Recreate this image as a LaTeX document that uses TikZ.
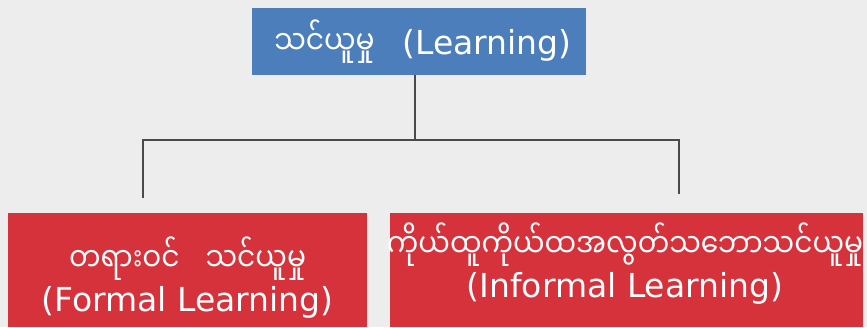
\documentclass[tikz,border=0pt]{standalone}
\usepackage{fontspec}
\setmainfont{DejaVu Sans}
\newfontfamily\mya[Script=Myanmar, FakeStretch=0.85]{Noto Sans Myanmar UI}
\newcommand\mytxt[1]{{\mya\fontsize{33}{40}\selectfont #1}}
\usetikzlibrary{calc}
\definecolor{paper}{HTML}{EDEDED}
\definecolor{boxblue}{HTML}{4D7EBC}
\definecolor{boxred}{HTML}{D5323C}
\definecolor{linegrey}{HTML}{4A4A4A}
\tikzset{
  bluebox/.style={fill=boxblue, draw=none, minimum width=334pt, minimum height=67pt, inner sep=0pt},
  redbox/.style={fill=boxred, draw=none, minimum height=114pt, inner sep=0pt},
  boxtext/.style={text=white, align=center, inner sep=0pt, font=\fontsize{33}{40}\selectfont},
  conn/.style={draw=linegrey, line width=2.6pt}
}
\begin{document}
\begin{tikzpicture}[x=1pt,y=-1pt]
\fill[paper] (0,0) rectangle (867,327);
\useasboundingbox (0,0) rectangle (867,327);
% boxes
\node[bluebox] (top) at (419,41.5) {};
\node[redbox, minimum width=359pt] (lbox) at (187.5,270) {};
\node[redbox, minimum width=473pt] (rbox) at (626.5,270) {};
% texts
\node[boxtext] (toptext) at (423,42) {\mytxt{သင်ယူမှု}\hspace{28pt}(Learning)};
\node[boxtext] (ltext) at (187.5,278) {\mytxt{တရားဝင်\hspace{26pt}သင်ယူမှု}\\(Formal Learning)};
\node[boxtext] (rtext) at (625,264) {\mytxt{ကိုယ်ထူကိုယ်ထအလွတ်သဘောသင်ယူမှု}\\(Informal Learning)};
% connectors
\coordinate (j) at (415,140);
\coordinate (l) at (143,140);
\coordinate (r) at (679,140);
\coordinate (le) at (143,198);
\coordinate (re) at (679,194);
\draw[conn] (top.south -| j) -- (j);
\draw[conn] (le) -- (l) -- (r) -- (re);
\end{tikzpicture}
\end{document}
